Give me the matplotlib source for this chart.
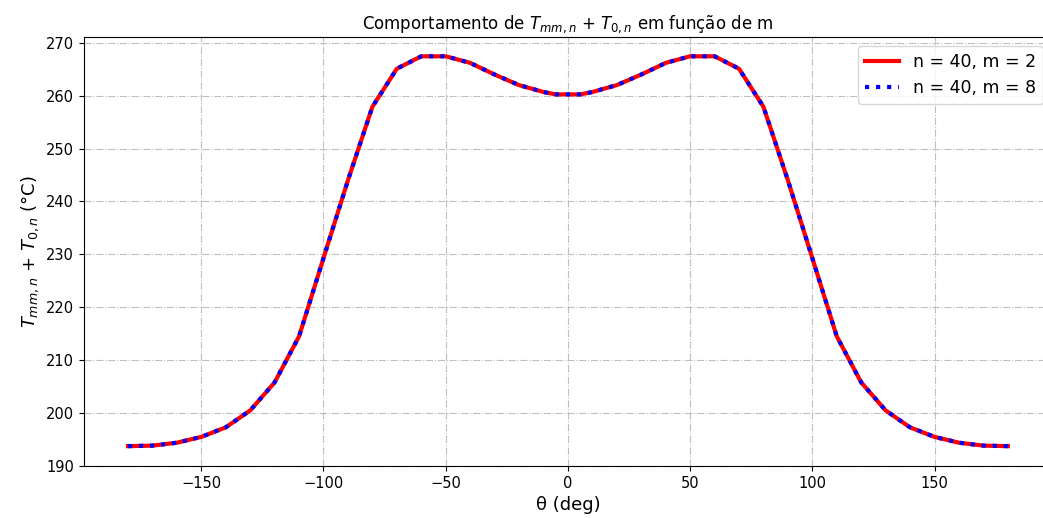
import numpy as np
import matplotlib.pyplot as plt

# ângulos (graus) e temperaturas
theta_esq = [-180, -170, -160, -150, -140, -130, -120, -110, -100, -90,
             -80, -70, -60, -50, -40, -30, -20, -10, -5]
temp_esq = [193.75, 193.85, 194.4, 195.5, 197.3, 200.5, 205.8, 214.5, 229.3, 244.0,
            257.9, 265.1, 267.45, 267.45, 266.2, 264.0, 262.0, 260.7, 260.25]

theta = theta_esq + [-t for t in theta_esq[::-1]]
temp_m2 = temp_esq + temp_esq[::-1]
temp_m8 = temp_esq + temp_esq[::-1]

labels = ["n = 40, m = 2", "n = 40, m = 8"]

fig = plt.figure(figsize=(10.43, 5.18), dpi=100)
ax = fig.add_axes([0.0805, 0.1004, 0.928, 0.8282])

ax.plot(theta, temp_m2, color="red", linestyle="-", linewidth=3, label=labels[0])
ax.plot(theta, temp_m8, color="blue", linestyle=":", linewidth=3, label=labels[1])

ax.set_ylim(190, 271.1)
ax.set_title(r"Comportamento de $T_{mm,n}$ + $T_{0,n}$ em função de m", fontsize=12)
ax.set_xlabel("θ (deg)", fontsize=13)
ax.set_ylabel(r"$T_{mm,n}$ + $T_{0,n}$ (°C)", fontsize=13)
ax.tick_params(labelsize=10.5)
ax.grid(True, linestyle="-.", linewidth=0.8, color="#b0b0b0", alpha=0.8)
ax.legend(loc="upper right", fontsize=12.5)

fig.savefig("out.png", dpi=100)
